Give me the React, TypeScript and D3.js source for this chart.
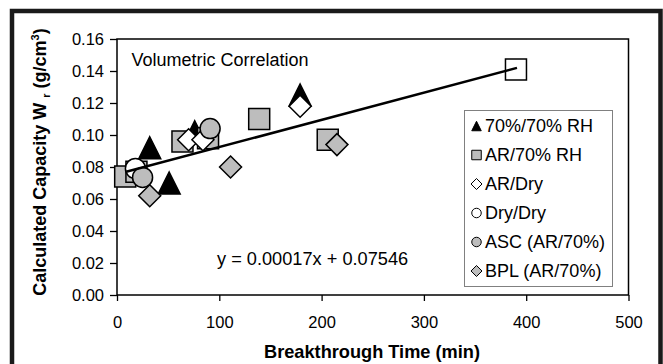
import React, { useEffect, useRef } from 'react';
import * as d3 from 'd3';

// series values (x = breakthrough time in min, y = W r in g/cm3)
const rh70X = [32, 51, 76, 179];
const rh70Y = [0.092, 0.07, 0.102, 0.125];

const ar70X = [8, 19, 64, 89, 139, 206];
const ar70Y = [0.074, 0.077, 0.096, 0.098, 0.11, 0.097];

const arDryX = [70, 84, 179];
const arDryY = [0.097, 0.097, 0.118];

const dryX = [18];
const dryY = [0.079];

const ascX = [25, 91];
const ascY = [0.0735, 0.104];

const bplX = [32, 111, 215];
const bplY = [0.062, 0.08, 0.094];

// lone open square at the top of the fit line (not in legend)
const extraX = [390];
const extraY = [0.141];

const slope = 0.00017;
const intercept = 0.07546;
const fitRange = [9, 391];

const xTicks = [0, 100, 200, 300, 400, 500];
const yTicks = [0, 0.02, 0.04, 0.06, 0.08, 0.1, 0.12, 0.14, 0.16];

const legendLabels = ['70%/70% RH', 'AR/70% RH', 'AR/Dry', 'Dry/Dry', 'ASC (AR/70%)', 'BPL (AR/70%)'];

const FONT = "Arial, 'Liberation Sans', sans-serif";

// marker path centred on 0,0 with overall box size s
const markerPath = (shape: string, s: number) => {
  const h = s / 2;
  if (shape === 'triangle') return `M0,${-h}L${h},${h}L${-h},${h}Z`;
  if (shape === 'square') return `M${-h},${-h}H${h}V${h}H${-h}Z`;
  if (shape === 'diamond') return `M0,${-h}L${h},0L0,${h}L${-h},0Z`;
  return `M${h},0A${h},${h} 0 1,1 ${-h},0A${h},${h} 0 1,1 ${h},0Z`;
};

const App = () => {
  const ref = useRef<SVGSVGElement>(null);

  useEffect(() => {
    const svg = d3.select(ref.current);
    svg.selectAll('*').remove();

    const width = 663;
    const height = 364;
    const margin = { top: 39, right: 34.5, bottom: 69, left: 117 };

    const x = d3.scaleLinear().domain([0, 500]).range([margin.left, width - margin.right]);
    const y = d3.scaleLinear().domain([0, 0.16]).range([height - margin.bottom, margin.top]);

    svg.append('rect').attr('width', width).attr('height', height).attr('fill', '#fff');

    // outer black frame
    svg.append('path')
      .attr('d', `M12,${height + 5}V11H660.5V${height + 5}`)
      .attr('fill', 'none')
      .attr('stroke', '#1a1a1a')
      .attr('stroke-width', 4.5);

    // plot box
    svg.append('rect')
      .attr('x', x(0)).attr('y', y(0.16))
      .attr('width', x(500) - x(0)).attr('height', y(0) - y(0.16))
      .attr('fill', 'none').attr('stroke', '#000').attr('stroke-width', 1.5);

    // y axis
    const yAxis = svg.append('g')
      .attr('transform', `translate(${x(0)},0)`)
      .call(d3.axisLeft(y).tickValues(yTicks).tickFormat(d3.format('.2f')).tickSize(7).tickPadding(6));
    yAxis.select('.domain').remove();
    yAxis.selectAll('line').attr('stroke', '#000').attr('stroke-width', 1.3);
    yAxis.selectAll('text').attr('font-family', FONT).attr('font-size', 16.5).attr('fill', '#000');

    // x axis
    const xAxis = svg.append('g')
      .attr('transform', `translate(0,${y(0)})`)
      .call(d3.axisBottom(x).tickValues(xTicks).tickFormat(d3.format('d')).tickSize(6).tickPadding(15));
    xAxis.select('.domain').remove();
    xAxis.selectAll('line').attr('stroke', '#000').attr('stroke-width', 1.3);
    xAxis.selectAll('text').attr('font-family', FONT).attr('font-size', 16.5).attr('fill', '#000');

    // axis titles
    svg.append('text')
      .attr('x', 372).attr('y', 358)
      .attr('text-anchor', 'middle')
      .attr('font-family', FONT).attr('font-size', 18.2).attr('font-weight', 'bold')
      .text('Breakthrough Time (min)');

    const yt = svg.append('text')
      .attr('transform', 'translate(46,162) rotate(-90)')
      .attr('text-anchor', 'middle')
      .attr('font-family', FONT).attr('font-size', 18).attr('font-weight', 'bold');
    yt.append('tspan').text('Calculated Capacity W ');
    yt.append('tspan').attr('font-size', 11).attr('dy', 4).text('r');
    yt.append('tspan').attr('dy', -4).text(' (g/cm');
    yt.append('tspan').attr('font-size', 11).attr('dy', -7).text('3');
    yt.append('tspan').attr('dy', 7).text(')');

    // annotations
    svg.append('text')
      .attr('x', 131.5).attr('y', 66)
      .attr('font-family', FONT).attr('font-size', 18)
      .text('Volumetric Correlation');

    svg.append('text')
      .attr('x', 217).attr('y', 265)
      .attr('font-family', FONT).attr('font-size', 18.2)
      .text('y = 0.00017x + 0.07546');

    // series in Excel draw order
    const series = [
      { xs: rh70X, ys: rh70Y, shape: 'triangle', fill: '#000', size: 22 },
      { xs: ar70X, ys: ar70Y, shape: 'square', fill: '#bdbdbd', size: 21 },
      { xs: arDryX, ys: arDryY, shape: 'diamond', fill: '#fff', size: 22 },
      { xs: dryX, ys: dryY, shape: 'circle', fill: '#fff', size: 20 },
      { xs: ascX, ys: ascY, shape: 'circle', fill: '#bdbdbd', size: 20 },
      { xs: bplX, ys: bplY, shape: 'diamond', fill: '#bdbdbd', size: 22 },
      { xs: extraX, ys: extraY, shape: 'square', fill: '#fff', size: 21 },
    ];

    series.forEach((s) => {
      svg.append('g')
        .selectAll('path')
        .data(s.xs.map((v, i) => [v, s.ys[i]]))
        .enter().append('path')
        .attr('d', markerPath(s.shape, s.size))
        .attr('transform', (d) => `translate(${x(d[0])},${y(d[1])})`)
        .attr('fill', s.fill)
        .attr('stroke', '#000')
        .attr('stroke-width', 1.5);
    });

    // linear fit
    svg.append('path')
      .datum(fitRange)
      .attr('d', d3.line<number>().x((d) => x(d)).y((d) => y(slope * d + intercept)))
      .attr('stroke', '#000')
      .attr('stroke-width', 2.5)
      .attr('fill', 'none');

    // legend
    const lg = svg.append('g').attr('transform', 'translate(464.5,110.5)');
    lg.append('rect')
      .attr('width', 148).attr('height', 176)
      .attr('fill', '#fff').attr('stroke', '#808080').attr('stroke-width', 1);

    const items = lg.selectAll('g.item')
      .data(legendLabels)
      .enter().append('g')
      .attr('transform', (d, i) => `translate(12,${15.5 + i * 29})`);

    items.append('path')
      .attr('d', (d, i) => markerPath(series[i].shape, series[i].shape === 'diamond' ? 11 : 9.5))
      .attr('fill', (d, i) => series[i].fill)
      .attr('stroke', '#000')
      .attr('stroke-width', 1);

    items.append('text')
      .attr('x', 8.5).attr('y', 6)
      .attr('font-family', FONT).attr('font-size', 18)
      .text((d) => d);
  }, []);

  return (
    <svg
      ref={ref}
      width={663}
      height={364}
      style={{ position: 'absolute', left: 0, top: 0 }}
    />
  );
};

export default App;
